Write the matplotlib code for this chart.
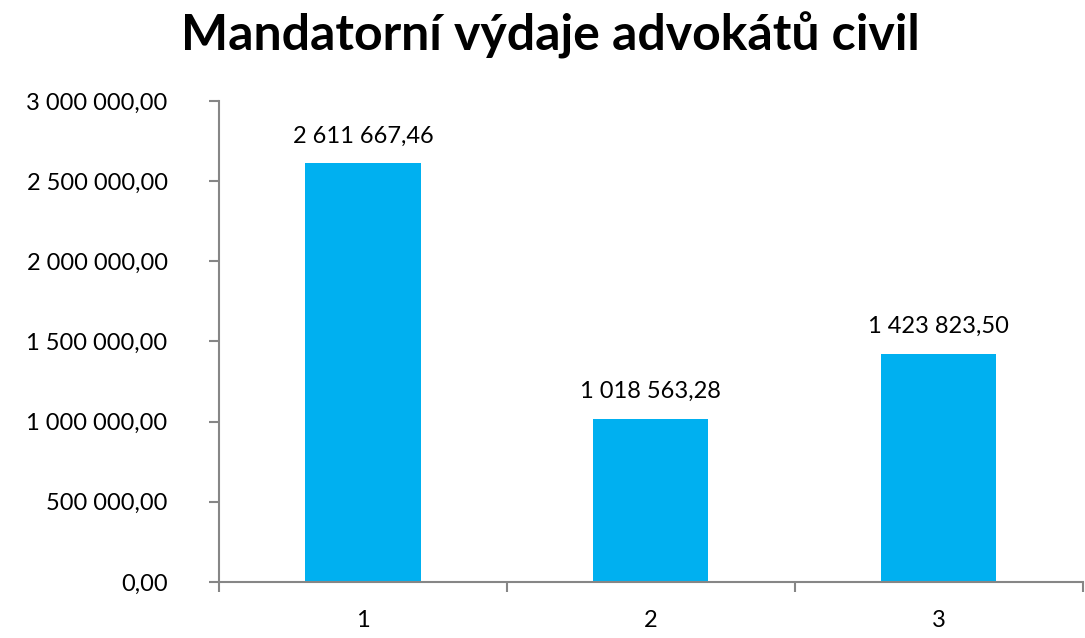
import numpy as np
from matplotlib import pyplot as plt
from matplotlib.ticker import FuncFormatter, FixedLocator

# data
categories = [1, 2, 3]
values = [2611667.46, 1018563.28, 1423823.50]
title = 'Mandatorní výdaje advokátů civil'

BAR_COLOR = '#00b0f0'
AXIS_COLOR = '#868686'

plt.rcParams['font.family'] = ['Lato', 'DejaVu Sans']


def cz_format(v, pos=None):
    # 1 234 567,89
    return f'{v:,.2f}'.replace(',', ' ').replace('.', ',')


fig = plt.figure(figsize=(10.85, 6.38), dpi=100)
ax = fig.add_axes([0.2018, 0.0878, 0.7962, 0.7539])

ax.bar(categories, values, width=0.4, color=BAR_COLOR, zorder=2)

for x, v in zip(categories, values):
    ax.annotate(cz_format(v), (x, v), xytext=(0, 12), textcoords='offset points',
                ha='center', va='bottom', fontsize=17, color='black')

ax.set_xlim(0.5, 3.5)
ax.set_ylim(0, 3000000)
ax.yaxis.set_major_locator(FixedLocator(np.arange(0, 3000001, 500000)))
ax.yaxis.set_major_formatter(FuncFormatter(cz_format))

ax.set_xticks(categories)
ax.set_xticks([0.5, 1.5, 2.5, 3.5], minor=True)
ax.tick_params(axis='x', which='major', length=0, pad=20, labelsize=17)
ax.tick_params(axis='x', which='minor', length=7, width=1.5, color=AXIS_COLOR)
ax.tick_params(axis='y', length=7, width=1.5, color=AXIS_COLOR, pad=30, labelsize=17)

for side in ['top', 'right']:
    ax.spines[side].set_visible(False)
for side in ['left', 'bottom']:
    ax.spines[side].set_color(AXIS_COLOR)
    ax.spines[side].set_linewidth(1.5)

fig.text(0.5075, 0.945, title, ha='center', va='center', fontsize=36, fontweight='bold')

fig.savefig('out.png', dpi=100)
